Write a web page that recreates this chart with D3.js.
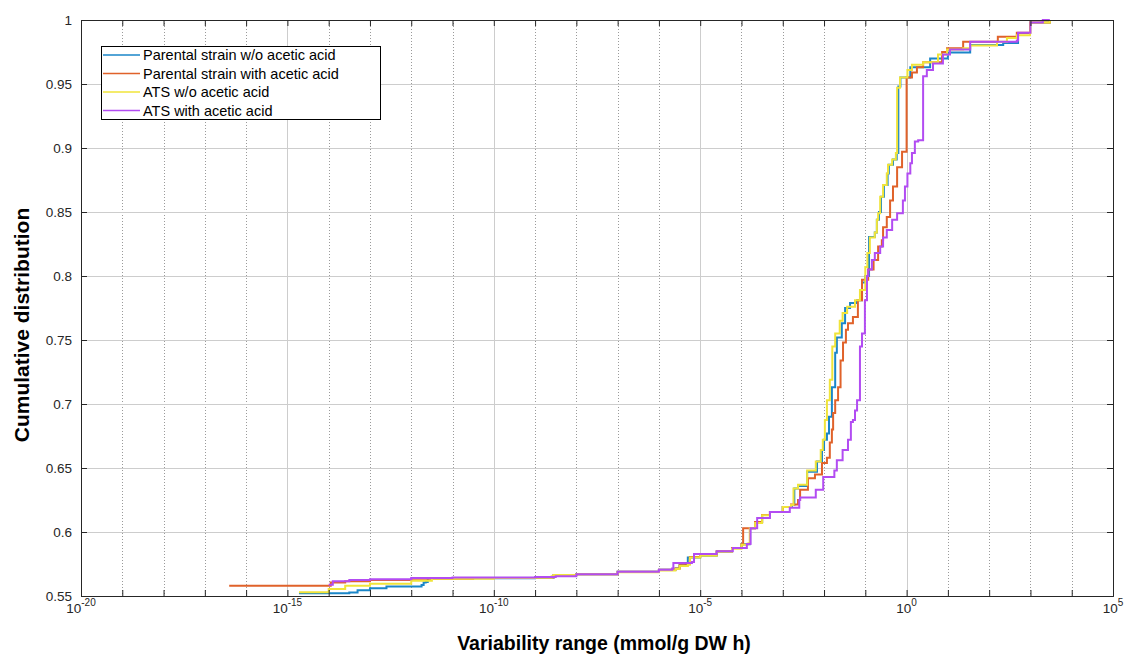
<!DOCTYPE html>
<html>
<head>
<meta charset="utf-8">
<script src="https://cdn.jsdelivr.net/npm/d3@7"></script>
<style>
  html, body { margin: 0; padding: 0; background: #fff; }
  svg { display: block; font-family: "Liberation Sans", Arial, Helvetica, sans-serif; }
</style>
</head>
<body>
<svg id="chart" width="1129" height="655"></svg>
<script>
// Empirical cumulative distributions of flux variability ranges.
// Each point: [log10 of variability range (mmol/g DW h), cumulative fraction]
const parentalNoAcid = [
  [-14.72,0.5521],[-13.5,0.5528],[-13.3,0.5545],[-13.0,0.556],[-12.6,0.5575],[-11.75,0.5585],
  [-11.7,0.5605],[-11.65,0.561],[-11.6,0.5638],[-9.0,0.5645],[-8.55,0.5665],[-8.0,0.567],
  [-7.0,0.569],[-6.0,0.5705],[-5.6,0.5715],[-5.5,0.574],[-5.35,0.5745],[-5.3,0.580],
  [-5.0,0.5815],[-4.6,0.5845],[-4.23,0.5875],[-4.0,0.5905],[-3.8,0.5915],[-3.79,0.603],
  [-3.67,0.6078],[-3.5,0.6133],[-3.31,0.6156],[-3.0,0.6195],[-2.78,0.621],[-2.72,0.634],
  [-2.63,0.636],[-2.41,0.647],[-2.17,0.655],[-2.05,0.664],[-2.0,0.672],[-1.93,0.677],
  [-1.88,0.69],[-1.81,0.713],[-1.73,0.74],[-1.69,0.752],[-1.57,0.763],[-1.49,0.775],
  [-1.37,0.779],[-1.2,0.781],[-1.08,0.795],[-1.0,0.800],[-0.91,0.807],[-0.91,0.8305],
  [-0.77,0.834],[-0.72,0.844],[-0.67,0.85],[-0.62,0.862],[-0.55,0.871],[-0.46,0.880],
  [-0.43,0.887],[-0.33,0.891],[-0.24,0.896],[-0.2,0.948],[-0.15,0.955],[0.09,0.963],
  [0.57,0.970],[1.0,0.9747],[1.54,0.9805],[2.34,0.982],[2.70,0.9898],[2.99,0.998],[3.47,1.0]
];
const parentalAcid = [
  [-16.41,0.558],[-14.0,0.558],[-13.95,0.5605],[-13.6,0.5615],[-13.0,0.5625],[-12.0,0.5635],
  [-10.5,0.5641],[-9.0,0.5645],[-8.55,0.5665],[-8.0,0.567],[-7.0,0.569],[-6.0,0.5705],
  [-5.6,0.5715],[-5.5,0.574],[-5.3,0.575],[-5.25,0.5805],[-5.0,0.582],[-4.6,0.585],
  [-4.23,0.5875],[-4.0,0.5905],[-3.96,0.603],[-3.67,0.6078],[-3.5,0.6133],[-3.31,0.6156],
  [-3.0,0.6195],[-2.8,0.6215],[-2.63,0.625],[-2.58,0.633],[-2.39,0.642],[-2.22,0.645],
  [-2.05,0.654],[-1.93,0.658],[-1.86,0.670],[-1.81,0.680],[-1.78,0.693],[-1.73,0.703],
  [-1.66,0.713],[-1.6,0.734],[-1.54,0.748],[-1.47,0.758],[-1.42,0.763],[-1.3,0.768],
  [-1.18,0.781],[-1.08,0.797],[-0.93,0.805],[-0.8,0.8125],[-0.69,0.823],[-0.6,0.828],
  [-0.57,0.838],[-0.48,0.846],[-0.4,0.859],[-0.33,0.870],[-0.23,0.885],[-0.11,0.897],
  [0.0,0.900],[0.0,0.955],[0.13,0.959],[0.25,0.963],[0.40,0.967],[0.86,0.975],
  [0.98,0.978],[1.37,0.983],[2.21,0.987],[2.67,0.990],[2.99,0.998],[3.47,1.0]
];
const atsNoAcid = [
  [-14.72,0.553],[-14.0,0.5555],[-13.6,0.558],[-13.0,0.5595],[-12.0,0.562],[-11.5,0.5635],
  [-10.0,0.564],[-9.0,0.5645],[-8.6,0.5655],[-8.55,0.5665],[-8.0,0.567],[-7.0,0.5685],
  [-6.0,0.570],[-5.6,0.571],[-5.5,0.5735],[-5.3,0.5745],[-5.25,0.580],[-5.0,0.5815],
  [-4.6,0.5845],[-4.23,0.587],[-4.0,0.590],[-3.85,0.591],[-3.8,0.603],[-3.67,0.607],
  [-3.5,0.613],[-3.31,0.6156],[-3.0,0.6195],[-2.8,0.621],[-2.74,0.634],[-2.63,0.637],
  [-2.41,0.648],[-2.2,0.655],[-2.08,0.664],[-2.03,0.672],[-1.98,0.6875],[-1.93,0.703],
  [-1.86,0.719],[-1.8,0.745],[-1.73,0.755],[-1.62,0.765],[-1.55,0.771],[-1.44,0.776],
  [-1.25,0.781],[-1.13,0.789],[-1.0,0.807],[-0.95,0.818],[-0.89,0.830],[-0.77,0.834],
  [-0.72,0.844],[-0.69,0.849],[-0.64,0.862],[-0.57,0.871],[-0.48,0.880],[-0.45,0.887],
  [-0.35,0.891],[-0.26,0.896],[-0.23,0.947],[-0.16,0.955],[0.02,0.961],[0.13,0.965],
  [0.40,0.967],[0.76,0.973],[0.98,0.977],[1.37,0.978],[1.54,0.980],[2.19,0.983],
  [2.43,0.986],[2.67,0.988],[2.99,0.990],[3.0,0.998],[3.47,1.0]
];
const atsAcid = [
  [-14.0,0.5588],[-13.9,0.5615],[-13.5,0.5625],[-13.0,0.563],[-12.0,0.5641],[-11.0,0.5645],
  [-9.0,0.5648],[-8.5,0.5655],[-8.0,0.567],[-7.0,0.569],[-6.0,0.5705],[-5.68,0.5715],
  [-5.65,0.5758],[-5.2,0.5765],[-5.15,0.5828],[-4.6,0.585],[-4.21,0.5875],[-3.87,0.5906],
  [-3.78,0.603],[-3.62,0.611],[-3.31,0.6156],[-2.83,0.619],[-2.6,0.625],[-2.58,0.627],
  [-2.2,0.633],[-2.02,0.643],[-1.75,0.648],[-1.69,0.656],[-1.55,0.664],[-1.42,0.672],
  [-1.35,0.686],[-1.3,0.6875],[-1.25,0.695],[-1.2,0.703],[-1.13,0.745],[-1.08,0.755],
  [-1.01,0.781],[-0.96,0.8],[-0.93,0.805],[-0.84,0.8125],[-0.77,0.818],[-0.64,0.823],
  [-0.57,0.830],[-0.48,0.836],[-0.35,0.844],[-0.23,0.849],[-0.09,0.859],[-0.04,0.870],
  [0.02,0.880],[0.09,0.888],[0.13,0.896],[0.2,0.905],[0.28,0.906],[0.40,0.956],
  [0.49,0.961],[0.64,0.966],[0.88,0.973],[1.05,0.977],[1.54,0.983],[2.67,0.984],
  [2.70,0.990],[3.0,0.998],[3.30,1.0],[3.47,1.0]
];

const seriesNames = [
  "Parental strain w/o acetic acid",
  "Parental strain with acetic acid",
  "ATS w/o acetic acid",
  "ATS with acetic acid"
];
const seriesData = [parentalNoAcid, parentalAcid, atsNoAcid, atsAcid];
const seriesColors = ["#1a86c8", "#e0622a", "#f0e43a", "#b24cf2"];

const xDecades = d3.range(-20, 6);            // one tick per decade
const xLabelExps = [-20, -15, -10, -5, 0, 5];   // labelled decades
const yTicks = [0.55, 0.6, 0.65, 0.7, 0.75, 0.8, 0.85, 0.9, 0.95, 1];

const plot = { left: 81, right: 1113, top: 20, bottom: 596 };

const svg = d3.select("#chart");
const x = d3.scaleLog().domain([1e-20, 1e5]).range([plot.left, plot.right]);
const y = d3.scaleLinear().domain([0.55, 1]).range([plot.bottom, plot.top]);

// Grid
const grid = svg.append("g");
grid.selectAll("line.vminor")
  .data(xDecades.filter(e => !xLabelExps.includes(e)))
  .join("line")
  .attr("x1", e => Math.round(x(Math.pow(10, e))) + 0.5)
  .attr("x2", e => Math.round(x(Math.pow(10, e))) + 0.5)
  .attr("y1", plot.top).attr("y2", plot.bottom)
  .attr("stroke", "#9a9a9a").attr("stroke-width", 1)
  .attr("stroke-dasharray", "1,2");
grid.selectAll("line.vmajor")
  .data(xLabelExps)
  .join("line")
  .attr("x1", e => Math.round(x(Math.pow(10, e))) + 0.5)
  .attr("x2", e => Math.round(x(Math.pow(10, e))) + 0.5)
  .attr("y1", plot.top).attr("y2", plot.bottom)
  .attr("stroke", "#cdcdcd").attr("stroke-width", 1);
grid.selectAll("line.h")
  .data(yTicks)
  .join("line")
  .attr("x1", plot.left).attr("x2", plot.right)
  .attr("y1", d => Math.round(y(d)) + 0.5)
  .attr("y2", d => Math.round(y(d)) + 0.5)
  .attr("stroke", "#cdcdcd").attr("stroke-width", 1);

// Curves
const line = d3.line()
  .x(d => x(Math.pow(10, d[0])))
  .y(d => y(d[1]))
  .curve(d3.curveStepAfter);

svg.append("g")
  .selectAll("path")
  .data(seriesData)
  .join("path")
  .attr("d", line)
  .attr("fill", "none")
  .attr("stroke", (d, i) => seriesColors[i])
  .attr("stroke-width", 2)
  .attr("stroke-linejoin", "miter");

// Axes (box with inward ticks on all four sides)
const axisColor = "#262626";
const axes = svg.append("g");

const xAxisBottom = d3.axisBottom(x)
  .tickValues(xDecades.map(e => Math.pow(10, e)))
  .tickSize(-6).tickFormat("");
const xAxisTop = d3.axisTop(x)
  .tickValues(xDecades.map(e => Math.pow(10, e)))
  .tickSize(-6).tickFormat("");
const yAxisLeft = d3.axisLeft(y).tickValues(yTicks).tickSize(-6).tickFormat("");
const yAxisRight = d3.axisRight(y).tickValues(yTicks).tickSize(-6).tickFormat("");

axes.append("g").attr("transform", `translate(0,${plot.bottom})`).call(xAxisBottom);
axes.append("g").attr("transform", `translate(0,${plot.top})`).call(xAxisTop);
axes.append("g").attr("transform", `translate(${plot.left},0)`).call(yAxisLeft);
axes.append("g").attr("transform", `translate(${plot.right},0)`).call(yAxisRight);
axes.selectAll("path.domain").attr("stroke", axisColor);
axes.selectAll(".tick line").attr("stroke", axisColor);

// Y tick labels
svg.append("g")
  .selectAll("text")
  .data(yTicks)
  .join("text")
  .attr("x", plot.left - 9)
  .attr("y", d => y(d) + 4.5)
  .attr("text-anchor", "end")
  .attr("font-size", 13.5)
  .attr("fill", axisColor)
  .text(d => d3.format("~g")(d));

// X tick labels: 10 with superscript exponent
const xl = svg.append("g")
  .selectAll("text")
  .data(xLabelExps)
  .join("text")
  .attr("x", e => x(Math.pow(10, e)))
  .attr("y", 613)
  .attr("text-anchor", "middle")
  .attr("font-size", 13.5)
  .attr("fill", axisColor);
xl.append("tspan").text("10");
xl.append("tspan").attr("dy", -7).attr("font-size", 10).text(e => String(e));

// Axis titles
svg.append("text")
  .attr("x", 604)
  .attr("y", 650)
  .attr("text-anchor", "middle")
  .attr("font-size", 19.5)
  .attr("font-weight", "bold")
  .attr("fill", "#000")
  .text("Variability range (mmol/g DW h)");

svg.append("text")
  .attr("transform", `translate(29,${(plot.top + plot.bottom) / 2 + 17}) rotate(-90)`)
  .attr("text-anchor", "middle")
  .attr("font-size", 21)
  .attr("font-weight", "bold")
  .attr("fill", "#000")
  .text("Cumulative distribution");

// Legend
const legend = svg.append("g").attr("transform", "translate(101,46)");
legend.append("rect")
  .attr("x", 0.5).attr("y", 0.5)
  .attr("width", 279).attr("height", 73)
  .attr("fill", "#fff").attr("stroke", "#000").attr("stroke-width", 1);
const items = legend.selectAll("g.item")
  .data(seriesNames)
  .join("g")
  .attr("transform", (d, i) => `translate(0,${9 + i * 18.5})`);
items.append("line")
  .attr("x1", 2).attr("x2", 39)
  .attr("y1", 0).attr("y2", 0)
  .attr("stroke", (d, i) => seriesColors[i])
  .attr("stroke-width", 1.5);
items.append("text")
  .attr("x", 42).attr("y", 5)
  .attr("font-size", 14.5)
  .attr("fill", "#000")
  .text(d => d);
</script>
</body>
</html>
